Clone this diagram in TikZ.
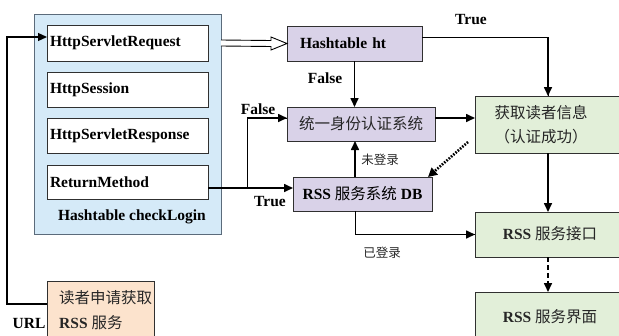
\documentclass[tikz,border=0pt]{standalone}
\usepackage{fontspec}
\setmainfont{Liberation Serif}
\newfontfamily\cjk{Noto Sans CJK SC}
\usetikzlibrary{arrows.meta,calc}
\definecolor{bluefill}{HTML}{D5EAF8}
\definecolor{bluedraw}{HTML}{5B6B7B}
\definecolor{purplefill}{HTML}{D9D2E8}
\definecolor{greenfill}{HTML}{E2EFD9}
\definecolor{orangefill}{HTML}{FCE3CD}
\definecolor{boxline}{HTML}{303030}
\begin{document}
\begin{tikzpicture}[x=1pt,y=-1pt,
  font=\fontsize{15.5}{18}\selectfont,
  box/.style={draw=boxline, line width=0.9pt, inner sep=0pt, outer sep=0pt},
  innerbox/.style={box, fill=white, minimum width=161pt, text width=155pt, align=left, font=\fontsize{15.5}{18}\selectfont\bfseries},
  purplebox/.style={box, fill=purplefill},
  greenbox/.style={box, fill=greenfill},
  lbl/.style={font=\fontsize{15.5}{18}\selectfont\bfseries, inner sep=0pt},
  cjklbl/.style={font=\fontsize{15.5}{18}\selectfont, inner sep=0pt, text=black!85},
  smalllbl/.style={font=\fontsize{12.5}{15}\selectfont\cjk, inner sep=0pt, text=black!85},
  arr/.style={line width=1.6pt, -{Triangle[length=9pt,width=8pt]}},
  thinl/.style={line width=1pt},
]
\useasboundingbox (0,0) rectangle (619,335);
\clip (0,0) rectangle (619,335);

% left container
\node[box, fill=bluefill, draw=bluedraw, minimum width=187pt, minimum height=220pt] (outer) at (127.5,124) {};
\node[innerbox, minimum height=36pt] (req) at (127.5,43) {HttpServletRequest};
\node[innerbox, minimum height=35pt] (sess) at (127.5,89.5) {HttpSession};
\node[innerbox, minimum height=35pt] (resp) at (127.5,135.5) {HttpServletResponse};
\node[innerbox, minimum height=34pt] (ret) at (127.5,182) {ReturnMethod};
\node[lbl] (ckl) at (132,217) {Hashtable checkLogin};

% purple boxes
\node[purplebox, minimum width=135pt, minimum height=35pt, text width=109pt, align=left] (ht) at (354.5,43.5) {\bfseries Hashtable ht};
\node[purplebox, minimum width=148pt, minimum height=34pt, cjklbl] (auth) at (361,124) {\cjk 统一身份认证系统};
\node[purplebox, minimum width=139pt, minimum height=34pt] (db) at (362.5,194) {\textbf{RSS} {\cjk 服务系统} \textbf{DB}};

% green boxes
\node[greenbox, minimum width=165pt, minimum height=57pt] (info) at (557.5,124.5) {};
\node[cjklbl, align=center, font=\fontsize{15.5}{24}\selectfont\cjk] (infot) at (541,125) {获取读者信息\\（认证成功）};
\node[greenbox, minimum width=165pt, minimum height=45pt] (api) at (557.5,234.5) {};
\node[cjklbl] (apit) at (550,234) {\textbf{RSS} {\cjk 服务接口}};
\node[greenbox, minimum width=165pt, minimum height=53pt] (ui) at (557.5,318.5) {};
\node[cjklbl] (uit) at (550,317) {\textbf{RSS} {\cjk 服务界面}};

% orange box
\node[box, fill=orangefill, minimum width=107pt, minimum height=64pt] (apply) at (100.5,313) {};
\node[cjklbl, anchor=west, align=left, font=\fontsize{15.5}{25}\selectfont] (applyt) at (59,310.5) {{\cjk 读者申请获取}\\\textbf{RSS} {\cjk 服务}};

% URL connector
\coordinate (ap) at ($(apply.west)+(0,-9)$);
\coordinate (rq) at ($(req.west)+(0,-6)$);
\coordinate (lx) at (7,0);
\draw[arr, line width=1.3pt] (ap) -- (ap -| lx) |- (rq);
\node[lbl] (url) at (29,323) {URL};

% hollow arrow
\coordinate (hs) at (outer.east |- req.east);
\draw[line width=0.9pt, fill=white] ($(hs)+(0,-3)$) -- ($(ht.west)+(-16,-3)$) -- ($(ht.west)+(-16,-6.5)$) -- (ht.west) -- ($(ht.west)+(-16,6.5)$) -- ($(ht.west)+(-16,3)$) -- ($(hs)+(0,3)$);

% ht -> info (True)
\coordinate (htR) at ($(ht.east)+(0,-6.5)$);
\coordinate (infoT) at ($(info.north)+(-9.5,0)$);
\draw[thinl] (htR) -| (infoT);
\draw[arr] (htR -| infoT) -- (infoT);
\node[lbl] (t1) at (471,20) {True};

% ht -> auth (False)
\draw[arr] (ht.south) -- (ht.south |- auth.north);
\node[lbl] (f1) at (325,78) {False};

% ReturnMethod -> db (True)
\coordinate (retR) at ($(ret.east)+(0,6)$);
\draw[arr] (retR) -- (retR -| db.west);
\node[lbl] (t2) at (270,202) {True};

% branch -> auth (False)
\coordinate (br) at ($(retR)+(39,0)$);
\coordinate (authL) at ($(auth.west)+(0,-6)$);
\draw[thinl] (br) |- (authL);
\draw[arr] (br |- authL) -- (authL);
\node[lbl] (f2) at (258,109) {False};

% auth -> info
\coordinate (authR) at ($(auth.east)+(0,-6)$);
\draw[arr] (authR) -- (authR -| info.west);

% db -> auth (not logged in)
\coordinate (dbN) at ($(db.north)+(-7.5,0)$);
\draw[arr] (dbN) -- (dbN |- auth.south);
\node[smalllbl] (nl) at (380,160) {未登录};

% dotted info -> db
\coordinate (dotS) at ($(info.south west)+(-7,-11)$);
\coordinate (dotE) at ($(db.north east)+(-4,0)$);
\draw[line width=2.6pt, dash pattern=on 1.6pt off 1.4pt, -{Triangle[length=9pt,width=9pt]}] (dotS) -- (dotE);

% db -> api (logged in)
\coordinate (dbS) at ($(db.south)+(-7.5,0)$);
\draw[thinl] (dbS) |- (api.west);
\draw[arr] (dbS |- api.west) -- (api.west);
\node[smalllbl] (ll) at (382,253) {已登录};

% info -> api
\coordinate (infoB) at ($(info.south)+(-9.5,0)$);
\draw[arr] (infoB) -- (infoB |- api.north);

% api -> ui dashed
\coordinate (apiB) at ($(api.south)+(-9.5,0)$);
\draw[arr, dash pattern=on 5pt off 3pt] (apiB) -- (apiB |- ui.north);
\end{tikzpicture}
\end{document}
